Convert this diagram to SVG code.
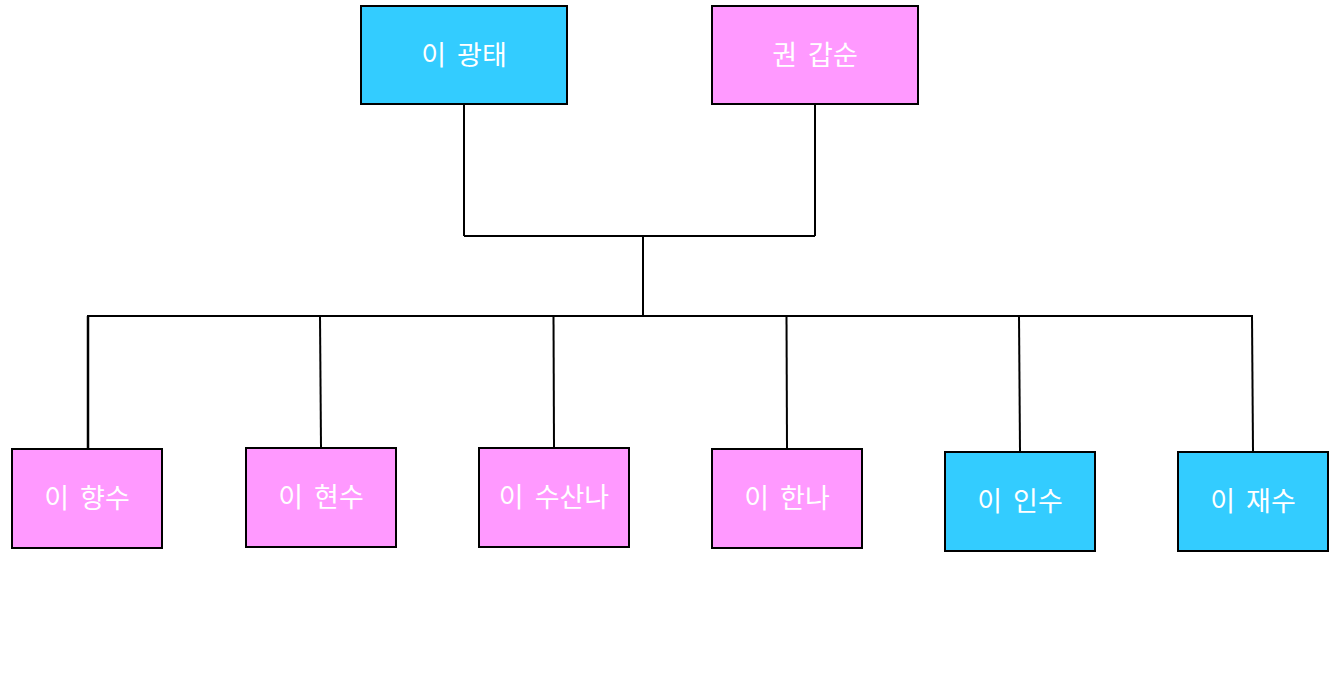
<svg xmlns="http://www.w3.org/2000/svg" width="1333" height="675" viewBox="0 0 1333 675">
<style>
.m rect{fill:#33CCFF;stroke:#000;stroke-width:2}
.f rect{fill:#FF99FF;stroke:#000;stroke-width:2}
text{font-family:"Noto Sans CJK KR","Noto Sans",sans-serif;font-size:27px;fill:#fff;text-anchor:middle;word-spacing:5px}
#connectors line{stroke:#000;stroke-width:2;fill:none}
</style>
<rect width="1333" height="675" fill="#fff"/>
<g id="connectors">
<line x1="464" y1="104" x2="464" y2="236"/>
<line x1="815" y1="104" x2="815" y2="236"/>
<line x1="464" y1="236" x2="815" y2="236"/>
<line x1="643" y1="236" x2="643" y2="316"/>
<line x1="87" y1="316" x2="1253" y2="316"/>
<line x1="88" y1="316" x2="88" y2="449" style="stroke-width:2.5"/>
<line x1="320" y1="316" x2="321" y2="448"/>
<line x1="553.5" y1="316" x2="554" y2="448"/>
<line x1="786.5" y1="316" x2="787" y2="449"/>
<line x1="1019" y1="316" x2="1020" y2="452"/>
<line x1="1252" y1="316" x2="1253" y2="452"/>
</g>
<g id="n1" class="m"><rect x="361" y="6" width="206" height="98"/><text x="464" y="65">이 광태</text></g>
<g id="n2" class="f"><rect x="712" y="6" width="206" height="98"/><text x="815" y="65">권 갑순</text></g>
<g id="c1" class="f"><rect x="12" y="449" width="150" height="99"/><text x="87" y="508">이 향수</text></g>
<g id="c2" class="f"><rect x="246" y="448" width="150" height="99"/><text x="321" y="507">이 현수</text></g>
<g id="c3" class="f"><rect x="479" y="448" width="150" height="99"/><text x="554" y="507">이 수산나</text></g>
<g id="c4" class="f"><rect x="712" y="449" width="150" height="99"/><text x="787" y="508">이 한나</text></g>
<g id="c5" class="m"><rect x="945" y="452" width="150" height="99"/><text x="1020" y="511">이 인수</text></g>
<g id="c6" class="m"><rect x="1178" y="452" width="150" height="99"/><text x="1253" y="511">이 재수</text></g>
</svg>
